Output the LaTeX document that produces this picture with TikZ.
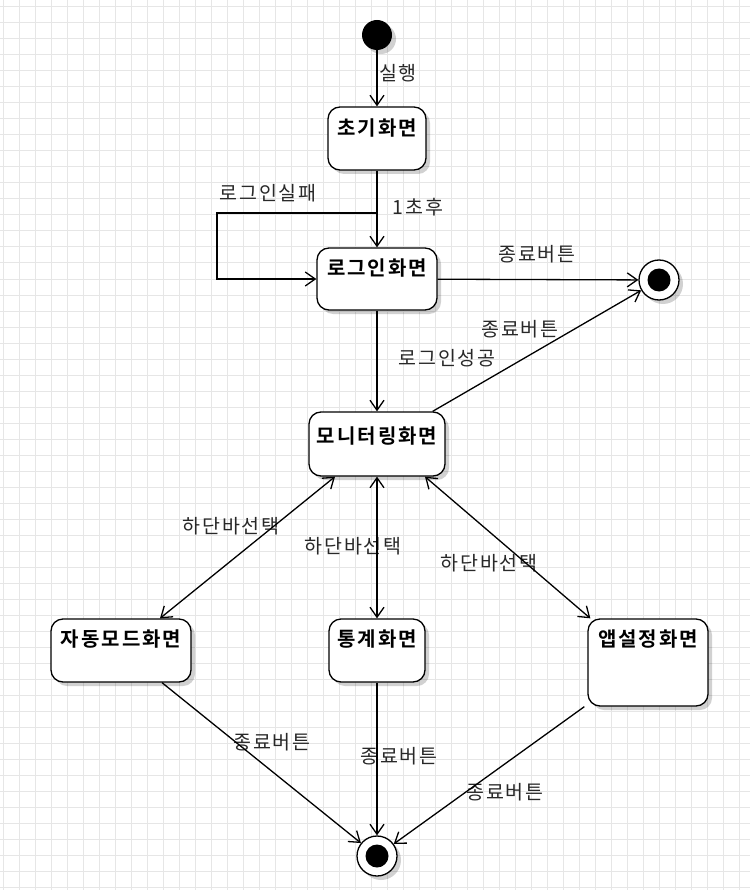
\documentclass[tikz,border=0pt]{standalone}
\usepackage{fontspec}
\setmainfont{Noto Sans CJK KR}[BoldFont={Noto Sans CJK KR Bold},LetterSpace=10]
\usetikzlibrary{arrows.meta,shadows}
\definecolor{gridc}{RGB}{230,230,230}
\definecolor{txt}{RGB}{40,40,40}
\tikzset{
  shad/.style={drop shadow={shadow xshift=4pt,shadow yshift=-4pt,opacity=0.18,fill=black}},
  statebox/.style={draw=black,line width=1.3pt,rounded corners=12pt,fill=white,shad,inner sep=0pt},
  boxtitle/.style={font=\bfseries\fontsize{20}{23}\selectfont,text=black,inner sep=0pt},
  elabel/.style={font=\fontsize{19.5}{22}\selectfont,text=txt,inner sep=0pt},
  arr/.style={line width=1.3pt,-{Straight Barb[length=10pt,width=14pt,line width=1.3pt]}},
  darr/.style={line width=1.3pt,{Straight Barb[length=10pt,width=14pt,line width=1.3pt]}-{Straight Barb[length=10pt,width=14pt,line width=1.3pt]}},
  initst/.style={circle,fill=black,minimum size=30pt,inner sep=0pt,shad},
  finalst/.style={circle,draw=black,line width=1.3pt,fill=white,minimum size=40pt,inner sep=0pt,shad,
    path picture={\fill[black] (path picture bounding box.center) circle (11.5pt);}},
}
\begin{document}
\begin{tikzpicture}[x=1pt,y=-1pt]
\useasboundingbox (0,0) rectangle (750,890);
\fill[white] (0,0) rectangle (750,890);
\foreach \gx in {3,19,...,750} \draw[gridc,line width=1pt] (\gx,0) -- (\gx,890);
\foreach \gy in {7,23,...,890} \draw[gridc,line width=1pt] (0,\gy) -- (750,\gy);

% states
\node[initst] (start) at (377,35) {};
\node[statebox,minimum width=98pt,minimum height=63pt] (init) at (377,138.5) {};
\node[statebox,minimum width=120pt,minimum height=62pt] (login) at (377,279) {};
\node[finalst] (fin1) at (659,280) {};
\node[statebox,minimum width=136pt,minimum height=64pt] (mon) at (377,444) {};
\node[statebox,minimum width=140pt,minimum height=63pt] (auto) at (121,650.5) {};
\node[statebox,minimum width=96pt,minimum height=63pt] (stat) at (377,650.5) {};
\node[statebox,minimum width=120pt,minimum height=87pt] (app) at (648,662.5) {};
\node[finalst] (fin2) at (377,856) {};

% titles
\node[boxtitle] (tinit) at (377,128) {초기화면};
\node[boxtitle] (tlogin) at (377,268) {로그인화면};
\node[boxtitle] (tmon) at (377,436) {모니터링화면};
\node[boxtitle] (tauto) at (121,639) {자동모드화면};
\node[boxtitle] (tstat) at (377,639) {통계화면};
\node[boxtitle] (tapp) at (648,639) {앱설정화면};

% edge labels
\node[elabel] (l1) at (398,73) {실행};
\node[elabel] (l2) at (418,207) {1초후};
\node[elabel] (l3) at (268,193) {로그인실패};
\node[elabel] (l4) at (537,254) {종료버튼};
\node[elabel] (l5) at (520,329) {종료버튼};
\node[elabel] (l6) at (447,358) {로그인성공};
\node[elabel] (l7) at (231,526) {하단바선택};
\node[elabel] (l8) at (353,546) {하단바선택};
\node[elabel] (l9) at (489,563) {하단바선택};
\node[elabel] (l10) at (272,742) {종료버튼};
\node[elabel] (l11) at (399,756) {종료버튼};
\node[elabel] (l12) at (505,792) {종료버튼};

% connectors
\coordinate (lf1) at (377,213);
\coordinate (lf2) at (217,213);
\draw[arr] (start) -- (init);
\draw[arr] (init) -- (login);
\draw[arr] (lf1) -- (lf2) |- (login.west);
\draw[arr] (login) -- (fin1);
\draw[arr] (login) -- (mon);
\draw[arr] ([xshift=-13pt]mon.north east) -- (fin1);
\draw[darr] ([xshift=-42pt]mon.south) -- ([xshift=39pt]auto.north);
\draw[darr] (mon) -- (stat);
\draw[darr] ([xshift=48pt]mon.south) -- ([xshift=3pt]app.north west);
\draw[arr] ([xshift=41pt]auto.south) -- (fin2);
\draw[arr] (stat) -- (fin2);
\draw[arr] ([xshift=-3pt]app.south west) -- (fin2);
\end{tikzpicture}
\end{document}
